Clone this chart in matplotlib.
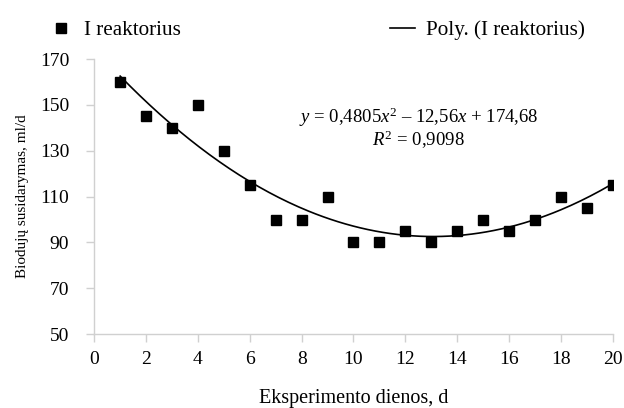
import numpy as np
import matplotlib
matplotlib.use('Agg')
import matplotlib.pyplot as plt
from matplotlib.lines import Line2D

matplotlib.rcParams.update({
    'font.family': 'Liberation Serif',
    'mathtext.fontset': 'custom',
    'mathtext.rm': 'Liberation Serif',
    'mathtext.it': 'Liberation Serif:italic',
})

days = [1, 2, 3, 4, 5, 6, 7, 8, 9, 10, 11, 12, 13, 14, 15, 16, 17, 18, 19, 20]
biogas = [160, 145, 140, 150, 130, 115, 100, 100, 110, 90,
          90, 95, 90, 95, 100, 95, 100, 110, 105, 115]
poly_coef = [0.4805, -12.56, 174.68]
x_ticks = [0, 2, 4, 6, 8, 10, 12, 14, 16, 18, 20]
y_ticks = [50, 70, 90, 110, 130, 150, 170]

AXIS_COL = '#d0d0d0'

fig = plt.figure(figsize=(6.24, 4.08), dpi=100)
ax = fig.add_axes([0.151, 0.181, 0.831, 0.674])

xs = np.linspace(days[0], days[-1], 200)
ax.plot(xs, np.polyval(poly_coef, xs), color='black', lw=1.2, zorder=2)
ax.plot(days, biogas, ls='none', marker='s', ms=7.5, color='black', zorder=3)

ax.set_xlim(0, 20)
ax.set_ylim(50, 170)
ax.set_xticks(x_ticks)
ax.set_yticks(y_ticks)
for s in ['top', 'right']:
    ax.spines[s].set_visible(False)
for s in ['left', 'bottom']:
    ax.spines[s].set_color(AXIS_COL)
    ax.spines[s].set_linewidth(1.0)
ax.tick_params(axis='both', colors=AXIS_COL, labelcolor='black', length=6, width=1.0,
               labelsize=14)
ax.tick_params(axis='x', pad=6)
ax.tick_params(axis='y', pad=12)

ax.set_xlabel('Eksperimento dienos, d', fontsize=14.5, labelpad=15)
ax.set_ylabel('Biodujų susidarymas, ml/d', fontsize=11, labelpad=8)

ax.text(12.5, 144.6, r'$y$ = 0,4805$x^2$ – 12,56$x$ + 174,68',
        ha='center', va='center', fontsize=13.5)
ax.text(12.5, 134.8, r'$R^2$ = 0,9098', ha='center', va='center', fontsize=13.5)

handles = [Line2D([], [], ls='none', marker='s', ms=7.5, color='black'),
           Line2D([], [], color='black', lw=1.2)]
fig.legend(handles, ['I reaktorius', 'Poly. (I reaktorius)'],
           loc='center left', bbox_to_anchor=(0.047, 0.926), ncol=2,
           frameon=False, fontsize=15.2, columnspacing=9.9,
           handlelength=1.2, handletextpad=0.5)

fig.savefig('out.png', dpi=100, facecolor='white')
